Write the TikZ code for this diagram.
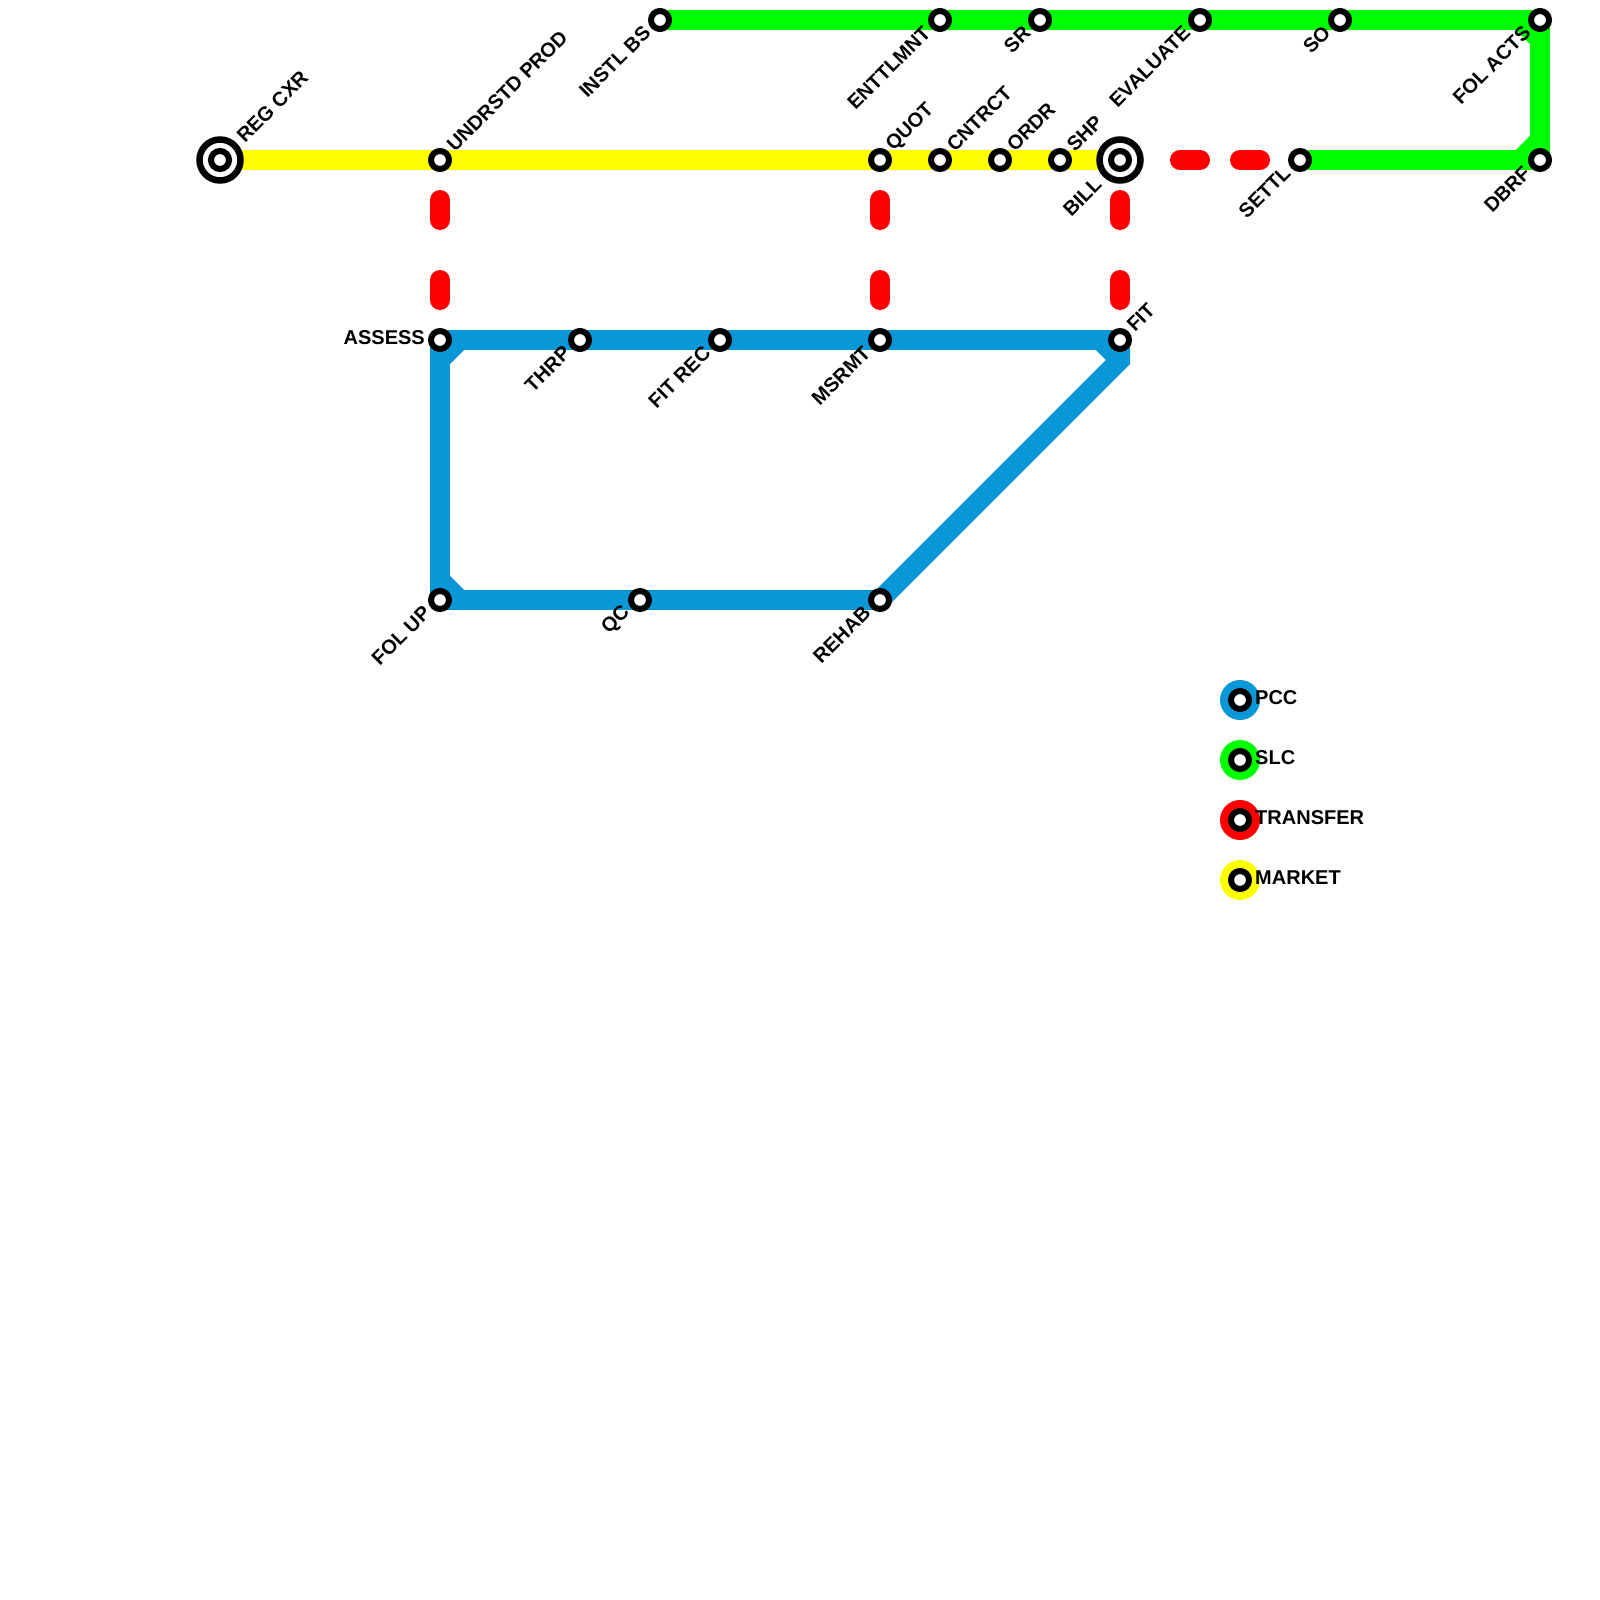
\documentclass[tikz,border=0pt]{standalone}
\usepackage{fontspec}
\setmainfont{Liberation Sans}
\usetikzlibrary{backgrounds}
\definecolor{pccblue}{HTML}{0997D8}
\definecolor{slcgreen}{HTML}{00FF00}
\definecolor{xferred}{HTML}{FF0000}
\definecolor{mktyellow}{HTML}{FFFF00}

\begin{document}
\begin{tikzpicture}[
    x=1pt,
    y=-1pt,
    every node/.style={font=\fontsize{20}{22}\selectfont\bfseries},
    station/.style={
        circle,
        draw=black,
        fill=white,
        line width=6pt,
        inner sep=0pt,
        minimum size=18pt
    },
    termring/.style={
        circle,
        draw=black,
        fill=white,
        line width=6.5pt,
        inner sep=0pt,
        minimum size=41pt
    },
    legdot/.style={
        circle,
        inner sep=0pt,
        minimum size=40pt
    },
    lblne/.style={xshift=10pt, yshift=12pt, rotate=45, anchor=west, inner sep=0pt},
    lblsw/.style={xshift=-13pt, yshift=-9.5pt, rotate=45, anchor=east, inner sep=0pt},
    lblnet/.style={xshift=20pt, yshift=21pt, rotate=45, anchor=west, inner sep=0pt},
    lblswt/.style={xshift=-22pt, yshift=-21pt, rotate=45, anchor=east, inner sep=0pt},
    lblleg/.style={xshift=15pt, yshift=2pt, anchor=west, inner sep=0pt},
    line/.style={line width=20pt, line join=miter},
    xfer/.style={line, draw=xferred, line cap=round}
]
\useasboundingbox (0,0) rectangle (1600,1600);

% Market stations
\node[termring] (regcxrring) at (220,160) {};
\node[termring] (billring) at (1120,160) {};
\node[station] (regcxr) at (220,160) {};
\node[station] (undrstd) at (440,160) {};
\node[station] (quot) at (880,160) {};
\node[station] (cntrct) at (940,160) {};
\node[station] (ordr) at (1000,160) {};
\node[station] (shp) at (1060,160) {};
\node[station] (bill) at (1120,160) {};

% SLC stations
\node[station] (instlbs) at (660,20) {};
\node[station] (enttlmnt) at (940,20) {};
\node[station] (sr) at (1040,20) {};
\node[station] (evaluate) at (1200,20) {};
\node[station] (so) at (1340,20) {};
\node[station] (folacts) at (1540,20) {};
\node[station] (dbrf) at (1540,160) {};
\node[station] (settl) at (1300,160) {};

% PCC stations
\node[station] (assess) at (440,340) {};
\node[station] (thrp) at (580,340) {};
\node[station] (fitrec) at (720,340) {};
\node[station] (msrmt) at (880,340) {};
\node[station] (fit) at (1120,340) {};
\node[station] (folup) at (440,600) {};
\node[station] (qc) at (640,600) {};
\node[station] (rehab) at (880,600) {};

% Labels
\node[lblnet] (regcxrlbl) at (regcxr.center) {REG CXR};
\node[lblne] (undrstdlbl) at (undrstd.center) {UNDRSTD PROD};
\node[lblne] (quotlbl) at (quot.center) {QUOT};
\node[lblne] (cntrctlbl) at (cntrct.center) {CNTRCT};
\node[lblne] (ordrlbl) at (ordr.center) {ORDR};
\node[lblne] (shplbl) at (shp.center) {SHP};
\node[lblne] (fitlbl) at (fit.center) {FIT};
\node[lblswt] (billlbl) at (bill.center) {BILL};
\node[lblsw] (instlbslbl) at (instlbs.center) {INSTL BS};
\node[lblsw] (enttlmntlbl) at (enttlmnt.center) {ENTTLMNT};
\node[lblsw] (srlbl) at (sr.center) {SR};
\node[lblsw] (evaluatelbl) at (evaluate.center) {EVALUATE};
\node[lblsw] (solbl) at (so.center) {SO};
\node[lblsw] (folactslbl) at (folacts.center) {FOL ACTS};
\node[lblsw] (dbrflbl) at (dbrf.center) {DBRF};
\node[lblsw] (settllbl) at (settl.center) {SETTL};
\node[lblsw] (thrplbl) at (thrp.center) {THRP};
\node[lblsw] (fitreclbl) at (fitrec.center) {FIT REC};
\node[lblsw] (msrmtlbl) at (msrmt.center) {MSRMT};
\node[lblsw] (foluplbl) at (folup.center) {FOL UP};
\node[lblsw] (qclbl) at (qc.center) {QC};
\node[lblsw] (rehablbl) at (rehab.center) {REHAB};
\node[anchor=east, inner sep=0pt, xshift=-15pt, yshift=2pt] (assesslbl) at (assess.center) {ASSESS};

% Legend
\node[legdot, fill=pccblue] (pccdot) at (1240,700) {};
\node[legdot, fill=slcgreen] (slcdot) at (1240,760) {};
\node[legdot, fill=xferred] (xferdot) at (1240,820) {};
\node[legdot, fill=mktyellow] (mktdot) at (1240,880) {};
\node[station] (pcckey) at (pccdot.center) {};
\node[station] (slckey) at (slcdot.center) {};
\node[station] (xferkey) at (xferdot.center) {};
\node[station] (mktkey) at (mktdot.center) {};
\node[lblleg] (pcclbl) at (pccdot.center) {PCC};
\node[lblleg] (slclbl) at (slcdot.center) {SLC};
\node[lblleg] (xferlbl) at (xferdot.center) {TRANSFER};
\node[lblleg] (mktlbl) at (mktdot.center) {MARKET};

\begin{scope}[on background layer]
% Lines
\draw[line, mktyellow] (regcxr.center) -- (bill.center);

\draw[line, slcgreen] (instlbs.center) -- (folacts.center);
\draw[line, slcgreen] (folacts.center) -- (dbrf.center);
\draw[line, slcgreen] (settl.center) -- (dbrf.center);
\draw[line, slcgreen] ([xshift=-20pt]folacts.center) -- ([yshift=-20pt]folacts.center);
\draw[line, slcgreen] ([xshift=-20pt]dbrf.center) -- ([yshift=20pt]dbrf.center);

\draw[line, pccblue] (assess.center) -- (fit.center);
\draw[line, pccblue] (assess.center) -- (folup.center);
\draw[line, pccblue] (folup.center) -- (rehab.center);
\draw[line, pccblue] (fit.center) -- ([yshift=-20pt]fit.center) -- (rehab.center);
\draw[line, pccblue] ([xshift=20pt]assess.center) -- ([yshift=-20pt]assess.center);
\draw[line, pccblue] ([yshift=20pt]folup.center) -- ([xshift=20pt]folup.center);
\draw[line, pccblue] ([xshift=-20pt]fit.center) -- ([yshift=-20pt]fit.center);

% Transfers
\draw[xfer, dash pattern=on 20pt off 60pt on 20pt off 80pt, dash phase=140pt] (undrstd.center) -- (assess.center);
\draw[xfer, dash pattern=on 20pt off 60pt on 20pt off 80pt, dash phase=140pt] (quot.center) -- (msrmt.center);
\draw[xfer, dash pattern=on 20pt off 60pt on 20pt off 80pt, dash phase=140pt] (bill.center) -- (fit.center);
\draw[xfer, dash pattern=on 20pt off 40pt on 20pt off 100pt, dash phase=120pt] (bill.center) -- (settl.center);
\end{scope}

\end{tikzpicture}
\end{document}
